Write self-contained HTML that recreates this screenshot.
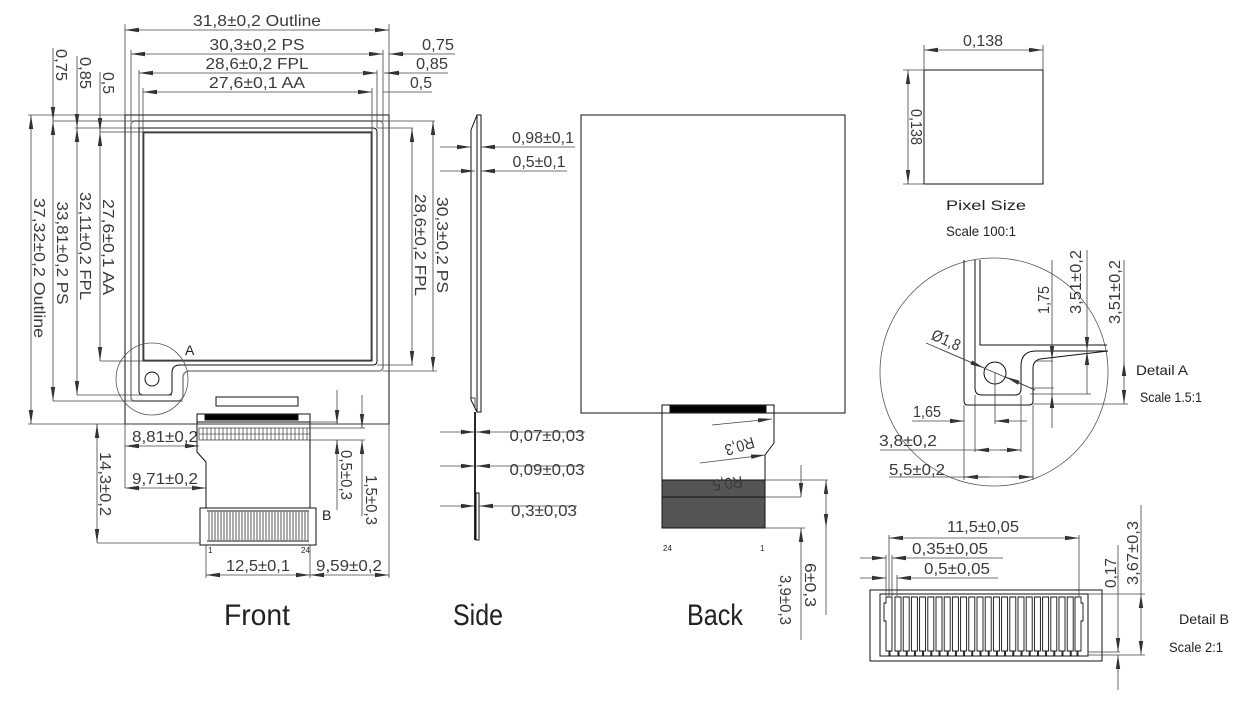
<!DOCTYPE html>
<html><head><meta charset="utf-8"><style>
html,body{margin:0;padding:0;background:#fff}
svg{display:block}
text{font-family:"Liberation Sans",sans-serif;fill:#3a3a3a;font-size:16px}
.big{font-size:30px;fill:#222}
.sm{font-size:14px;fill:#222}
.t{font-size:8px;fill:#222}
</style></head><body>
<svg width="1251" height="701" viewBox="0 0 1251 701" xmlns="http://www.w3.org/2000/svg">
<defs>
<marker id="a" viewBox="0 0 14 6" refX="14" refY="3" markerWidth="14" markerHeight="6" markerUnits="userSpaceOnUse" orient="auto-start-reverse"><path d="M0,0.8 L14,3 L0,5.2z" fill="#333"/></marker>
</defs>
<g fill="none" stroke="#111" stroke-width="1">
<!-- FRONT -->
<rect x="125" y="115" width="264" height="309"/>
<path d="M131,125 Q131,121 135,121 L379,121 Q383,121 383,125 L383,367 Q383,371 379,371 L190,371 Q183,371 183,378 L183,395 Q183,401 177,401 L135,401 Q131,401 131,397Z" stroke="#888" stroke-width="1.5"/>
<path d="M139,128 L373,128 Q377,128 377,132 L377,361 Q377,365 373,365 L180,365 Q172,365 172,373 L172,391 Q172,395 168,395 L143,395 Q139,395 139,391Z"/>
<rect x="143" y="132" width="229" height="229"/>
<rect x="144" y="133" width="227" height="227" stroke-width="0.6"/>
<circle cx="152" cy="379" r="7"/>
<circle cx="152" cy="379" r="36" stroke="#555" stroke-width="0.8"/>
<rect x="216" y="397" width="82" height="9"/>
<rect x="197" y="414" width="113" height="8"/>
<rect x="205" y="415" width="93" height="5" fill="#000"/>
<path d="M197,422 V452 L206,462 V508 M310,422 V508"/>
<rect x="199" y="428" width="111" height="12" stroke-width="0.6"/>
<path d="M199,434H310" stroke-width="0.5"/>
<path d="M203,428V440M207,428V440M211,428V440M215,428V440M219,428V440M223,428V440M227,428V440M231,428V440M235,428V440M239,428V440M243,428V440M247,428V440M251,428V440M255,428V440M259,428V440M263,428V440M267,428V440M271,428V440M275,428V440M279,428V440M283,428V440M287,428V440M291,428V440M295,428V440M299,428V440M303,428V440M307,428V440" stroke-width="0.6"/>
<rect x="200" y="508" width="116" height="37"/>
<g stroke-width="0.7">
<path d="M209,512V540M212,512V540M215,512V540M218,512V540M221,512V540M224,512V540M227,512V540M230,512V540M233,512V540M236,512V540M239,512V540M242,512V540M245,512V540M248,512V540M251,512V540M254,512V540M257,512V540M260,512V540M263,512V540M266,512V540M269,512V540M272,512V540M275,512V540M278,512V540M281,512V540M284,512V540M287,512V540M290,512V540M293,512V540M296,512V540M299,512V540M302,512V540M305,512V540M308,512V540"/>
</g>
<path d="M207,511H309M207,541H309" stroke-width="0.9"/>
<!-- front dims -->
<g stroke="#444" stroke-width="0.8">
<path d="M125,115V24M389,115V24M131,121V50M383,121V50M139,128V70M377,128V70M143,132V88M372,132V88"/>
<path d="M125,30H389" marker-start="url(#a)" marker-end="url(#a)"/>
<path d="M131,54H383" marker-start="url(#a)" marker-end="url(#a)"/>
<path d="M139,73H377" marker-start="url(#a)" marker-end="url(#a)"/>
<path d="M143,92H372" marker-start="url(#a)" marker-end="url(#a)"/>
<path d="M455,54H389M448,73H384M432,92H383"/>
<path d="M405,54H389" marker-end="url(#a)"/><path d="M400,73H385" marker-end="url(#a)"/>
<path d="M28,115H125M53,121H435M75,128H139M100,132H143"/>
<path d="M100,361H143M77,395H172M53,401H183M28,424H389M377,365H413M383,371H437M377,128H413"/>
<path d="M53,48V121" marker-end="url(#a)"/><path d="M77,56V128" marker-end="url(#a)"/><path d="M100,72V132" marker-end="url(#a)"/>
<path d="M31,115V424" marker-start="url(#a)" marker-end="url(#a)"/>
<path d="M53,121V401" marker-start="url(#a)" marker-end="url(#a)"/>
<path d="M77,128V395" marker-start="url(#a)" marker-end="url(#a)"/>
<path d="M100,132V361" marker-start="url(#a)" marker-end="url(#a)"/>
<path d="M412,128V365" marker-start="url(#a)" marker-end="url(#a)"/>
<path d="M433,121V371" marker-start="url(#a)" marker-end="url(#a)"/>
<path d="M97,424V543" marker-start="url(#a)" marker-end="url(#a)"/>
<path d="M97,543H200"/>
<path d="M125,446H199" marker-start="url(#a)" marker-end="url(#a)"/>
<path d="M125,488H206" marker-start="url(#a)" marker-end="url(#a)"/>
<path d="M125,424V488M389,424V578M206,545V578M310,545V578"/>
<path d="M206,575H310" marker-start="url(#a)" marker-end="url(#a)"/>
<path d="M310,575H389" marker-start="url(#a)" marker-end="url(#a)"/>
<path d="M310,422H338M310,440H365M310,428H365"/>
<path d="M337,390V424" marker-end="url(#a)"/><path d="M337,510V440" marker-end="url(#a)"/>
<path d="M362,395V428" marker-end="url(#a)"/><path d="M362,516V440" marker-end="url(#a)"/>
</g>
<!-- SIDE -->
<path d="M477,115H481V412H477ZM477,115L471,130V400L477,412"/>
<path d="M471,398H475V408" stroke-width="0.7"/>
<path d="M475,412V540" stroke-width="1.8"/>
<rect x="476" y="493" width="3" height="47"/>
<g stroke="#444" stroke-width="0.8">
<path d="M440,147H471" marker-end="url(#a)"/><path d="M575,147H481" marker-end="url(#a)"/>
<path d="M440,171H475" marker-end="url(#a)"/><path d="M567,171H481" marker-end="url(#a)"/>
<path d="M440,432H475" marker-end="url(#a)"/><path d="M585,432H476" marker-end="url(#a)"/>
<path d="M440,466H475" marker-end="url(#a)"/><path d="M585,466H476" marker-end="url(#a)"/>
<path d="M440,506H475" marker-end="url(#a)"/><path d="M577,506H479" marker-end="url(#a)"/>
</g>
<!-- BACK -->
<rect x="581" y="115" width="264" height="298"/>
<rect x="662" y="405" width="112" height="8"/>
<rect x="670" y="406" width="96" height="6" fill="#000"/>
<path d="M662,413V527M774,413V443L765,455V480"/>
<rect x="662" y="480" width="103" height="48" fill="#555"/>
<path d="M662,497H765"/>
<g stroke="#444" stroke-width="0.8">
<path d="M712,425L772,419" marker-end="url(#a)"/>
<path d="M700,463L765,455" marker-end="url(#a)"/>
<path d="M765,480H828M765,528H805M765,497H801"/>
<path d="M801,465V497" marker-end="url(#a)"/><path d="M801,640V528" marker-end="url(#a)"/>
<path d="M826,480V528" marker-start="url(#a)" marker-end="url(#a)"/>
<path d="M826,528V615"/>
</g>
<!-- PIXEL -->
<rect x="924" y="70" width="119" height="114"/>
<g stroke="#444" stroke-width="0.8">
<path d="M924,70V45M1043,70V45M924,70H903M924,184H903"/>
<path d="M924,50H1043" marker-start="url(#a)" marker-end="url(#a)"/>
<path d="M908,70V184" marker-start="url(#a)" marker-end="url(#a)"/>
</g>
<!-- DETAIL A -->
<circle cx="994" cy="372" r="114" stroke="#555" stroke-width="0.8"/>
<path d="M964,260V401Q964,405 968,405H1029Q1033,405 1033,401V368Q1033,361 1040,359L1108,351"/>
<path d="M975,260V388Q975,395 982,395H1015Q1021,395 1021,389V366Q1021,351 1036,351H1108"/>
<path d="M980,260V345H1107"/>
<circle cx="995" cy="373" r="11"/>
<g stroke="#444" stroke-width="0.8">
<path d="M926,343L1035,390"/>
<path d="M940,349L984,368" marker-end="url(#a)"/><path d="M1035,390L1006,377" marker-end="url(#a)"/>
<path d="M1052,260V360" marker-end="url(#a)"/><path d="M1052,428V394" marker-end="url(#a)"/>
<path d="M1052,360V394"/>
<path d="M1087,250V351" marker-end="url(#a)"/><path d="M1087,394V351" marker-end="url(#a)"/>
<path d="M1124,260V362"/><path d="M1124,362V404" marker-start="url(#a)" marker-end="url(#a)"/>
<path d="M1035,361H1053M1030,394H1091M1033,404H1128M1030,388H1054"/>
<path d="M995,373V424M975,395V452M1021,395V452M964,405V480M1033,405V480"/>
<path d="M912,421H964" marker-end="url(#a)"/><path d="M1027,421H995" marker-end="url(#a)"/>
<path d="M880,450H1021"/><path d="M990,450H975" marker-end="url(#a)"/><path d="M1000,450H1021" marker-end="url(#a)"/>
<path d="M889,477H1033"/><path d="M990,477H964" marker-end="url(#a)"/><path d="M1010,477H1033" marker-end="url(#a)"/>
</g>
<!-- DETAIL B -->
<rect x="870" y="590" width="232" height="71"/>
<rect x="880" y="594" width="208" height="62"/>
<path d="M886,597V603H884V621H886V651H889V656H890V651H892V597Z M1081,597V603H1083V621H1081V651H1078V656H1077V651H1075V597Z" stroke-width="0.9"/>
<g stroke-width="0.9">
<path d="M895,597h6v54h-2v5h-1v-5h-3z"/><path d="M903.2,597h6v54h-2v5h-1v-5h-3z"/><path d="M911.4,597h6v54h-2v5h-1v-5h-3z"/><path d="M919.6,597h6v54h-2v5h-1v-5h-3z"/><path d="M927.8,597h6v54h-2v5h-1v-5h-3z"/><path d="M936,597h6v54h-2v5h-1v-5h-3z"/><path d="M944.2,597h6v54h-2v5h-1v-5h-3z"/><path d="M952.4,597h6v54h-2v5h-1v-5h-3z"/><path d="M960.6,597h6v54h-2v5h-1v-5h-3z"/><path d="M968.8,597h6v54h-2v5h-1v-5h-3z"/><path d="M977,597h6v54h-2v5h-1v-5h-3z"/><path d="M985.2,597h6v54h-2v5h-1v-5h-3z"/><path d="M993.4,597h6v54h-2v5h-1v-5h-3z"/><path d="M1001.6,597h6v54h-2v5h-1v-5h-3z"/><path d="M1009.8,597h6v54h-2v5h-1v-5h-3z"/><path d="M1018,597h6v54h-2v5h-1v-5h-3z"/><path d="M1026.2,597h6v54h-2v5h-1v-5h-3z"/><path d="M1034.4,597h6v54h-2v5h-1v-5h-3z"/><path d="M1042.6,597h6v54h-2v5h-1v-5h-3z"/><path d="M1050.8,597h6v54h-2v5h-1v-5h-3z"/><path d="M1059,597h6v54h-2v5h-1v-5h-3z"/><path d="M1067.2,597h6v54h-2v5h-1v-5h-3z"/>
</g>
<g stroke="#444" stroke-width="0.8">
<path d="M889,596V535M1079,596V535M886,596V555M892,596V555M897,596V575"/>
<path d="M889,538H1079" marker-start="url(#a)" marker-end="url(#a)"/>
<path d="M860,558H886" marker-end="url(#a)"/><path d="M1003,558H892" marker-end="url(#a)"/>
<path d="M860,578H886" marker-end="url(#a)"/><path d="M998,578H897" marker-end="url(#a)"/>
<path d="M1088,594H1145M1088,652H1120M1088,655H1145"/>
<path d="M1141,505V594"/><path d="M1141,594V655" marker-start="url(#a)" marker-end="url(#a)"/>
<path d="M1118,545V652" marker-end="url(#a)"/><path d="M1118,690V655" marker-end="url(#a)"/>
</g>
</g>
<!-- TEXT -->
<text x="257" y="26" text-anchor="middle" textLength="128" lengthAdjust="spacingAndGlyphs">31,8±0,2 Outline</text>
<text x="257" y="50" text-anchor="middle" textLength="95" lengthAdjust="spacingAndGlyphs">30,3±0,2 PS</text>
<text x="257" y="69" text-anchor="middle" textLength="103" lengthAdjust="spacingAndGlyphs">28,6±0,2 FPL</text>
<text x="257" y="88" text-anchor="middle" textLength="96" lengthAdjust="spacingAndGlyphs">27,6±0,1 AA</text>
<text x="438" y="50" text-anchor="middle" textLength="32" lengthAdjust="spacingAndGlyphs">0,75</text>
<text x="432" y="69" text-anchor="middle" textLength="32" lengthAdjust="spacingAndGlyphs">0,85</text>
<text x="421" y="88" text-anchor="middle" textLength="22" lengthAdjust="spacingAndGlyphs">0,5</text>
<g text-anchor="middle">
<text transform="translate(56,65) rotate(90)" textLength="32" lengthAdjust="spacingAndGlyphs">0,75</text>
<text transform="translate(80,73) rotate(90)" textLength="32" lengthAdjust="spacingAndGlyphs">0,85</text>
<text transform="translate(103,83) rotate(90)" textLength="22" lengthAdjust="spacingAndGlyphs">0,5</text>
<text transform="translate(34,268) rotate(90)" textLength="140" lengthAdjust="spacingAndGlyphs">37,32±0,2 Outline</text>
<text transform="translate(57,253) rotate(90)" textLength="103" lengthAdjust="spacingAndGlyphs">33,81±0,2 PS</text>
<text transform="translate(80,246) rotate(90)" textLength="108" lengthAdjust="spacingAndGlyphs">32,11±0,2 FPL</text>
<text transform="translate(103,247) rotate(90)" textLength="96" lengthAdjust="spacingAndGlyphs">27,6±0,1 AA</text>
<text transform="translate(415,245) rotate(90)" textLength="102" lengthAdjust="spacingAndGlyphs">28,6±0,2 FPL</text>
<text transform="translate(437,245) rotate(90)" textLength="96" lengthAdjust="spacingAndGlyphs">30,3±0,2 PS</text>
<text transform="translate(100,484) rotate(90)" textLength="64" lengthAdjust="spacingAndGlyphs">14,3±0,2</text>
<text transform="translate(341,475) rotate(90)" textLength="50" lengthAdjust="spacingAndGlyphs">0,5±0,3</text>
<text transform="translate(366,500) rotate(90)" textLength="50" lengthAdjust="spacingAndGlyphs">1,5±0,3</text>
<text transform="translate(805,585) rotate(90)" textLength="44" lengthAdjust="spacingAndGlyphs">6±0,3</text>
<text transform="translate(780,600) rotate(90)" textLength="50" lengthAdjust="spacingAndGlyphs">3,9±0,3</text>
<text transform="translate(911,127) rotate(90)" textLength="36" lengthAdjust="spacingAndGlyphs">0,138</text>
<text transform="translate(1049,300) rotate(-90)" textLength="28" lengthAdjust="spacingAndGlyphs">1,75</text>
<text transform="translate(1081,282) rotate(-90)" textLength="64" lengthAdjust="spacingAndGlyphs">3,51±0,2</text>
<text transform="translate(1120,292) rotate(-90)" textLength="64" lengthAdjust="spacingAndGlyphs">3,51±0,2</text>
<text transform="translate(1116,573) rotate(-90)" textLength="30" lengthAdjust="spacingAndGlyphs">0,17</text>
<text transform="translate(1138,553) rotate(-90)" textLength="64" lengthAdjust="spacingAndGlyphs">3,67±0,3</text>
<text transform="translate(944,345) rotate(24)" textLength="30" lengthAdjust="spacingAndGlyphs">Ø1,8</text>
<text transform="translate(738,441) rotate(163)" textLength="30" lengthAdjust="spacingAndGlyphs">R0,3</text>
<text transform="translate(727,478) rotate(173)" textLength="30" lengthAdjust="spacingAndGlyphs">R0,5</text>
</g>
<text x="165" y="442" text-anchor="middle" textLength="66" lengthAdjust="spacingAndGlyphs">8,81±0,2</text>
<text x="165" y="484" text-anchor="middle" textLength="66" lengthAdjust="spacingAndGlyphs">9,71±0,2</text>
<text x="258" y="571" text-anchor="middle" textLength="64" lengthAdjust="spacingAndGlyphs">12,5±0,1</text>
<text x="349" y="571" text-anchor="middle" textLength="66" lengthAdjust="spacingAndGlyphs">9,59±0,2</text>
<text x="185" y="355" class="sm">A</text>
<text x="322" y="520" class="sm">B</text>
<text x="208" y="553" class="t">1</text><text x="301" y="553" class="t">24</text>
<text x="663" y="551" class="t">24</text><text x="760" y="551" class="t">1</text>
<text x="543" y="143" text-anchor="middle" textLength="62" lengthAdjust="spacingAndGlyphs">0,98±0,1</text>
<text x="539" y="167" text-anchor="middle" textLength="53" lengthAdjust="spacingAndGlyphs">0,5±0,1</text>
<text x="547" y="441" text-anchor="middle" textLength="75" lengthAdjust="spacingAndGlyphs">0,07±0,03</text>
<text x="547" y="475" text-anchor="middle" textLength="75" lengthAdjust="spacingAndGlyphs">0,09±0,03</text>
<text x="544" y="516" text-anchor="middle" textLength="66" lengthAdjust="spacingAndGlyphs">0,3±0,03</text>
<text x="983" y="46" text-anchor="middle" textLength="40" lengthAdjust="spacingAndGlyphs">0,138</text>
<text x="986" y="210" text-anchor="middle" class="sm" textLength="80" lengthAdjust="spacingAndGlyphs">Pixel Size</text>
<text x="981" y="236" text-anchor="middle" class="sm" textLength="70" lengthAdjust="spacingAndGlyphs">Scale 100:1</text>
<text x="927" y="417" text-anchor="middle" textLength="28" lengthAdjust="spacingAndGlyphs">1,65</text>
<text x="908" y="446" text-anchor="middle" textLength="58" lengthAdjust="spacingAndGlyphs">3,8±0,2</text>
<text x="917" y="475" text-anchor="middle" textLength="56" lengthAdjust="spacingAndGlyphs">5,5±0,2</text>
<text x="1162" y="375" text-anchor="middle" class="sm" textLength="52" lengthAdjust="spacingAndGlyphs">Detail A</text>
<text x="1171" y="402" text-anchor="middle" class="sm" textLength="62" lengthAdjust="spacingAndGlyphs">Scale 1.5:1</text>
<text x="983" y="532" text-anchor="middle" textLength="72" lengthAdjust="spacingAndGlyphs">11,5±0,05</text>
<text x="950" y="554" text-anchor="middle" textLength="76" lengthAdjust="spacingAndGlyphs">0,35±0,05</text>
<text x="957" y="574" text-anchor="middle" textLength="66" lengthAdjust="spacingAndGlyphs">0,5±0,05</text>
<text x="1204" y="624" text-anchor="middle" class="sm" textLength="50" lengthAdjust="spacingAndGlyphs">Detail B</text>
<text x="1196" y="652" text-anchor="middle" class="sm" textLength="54" lengthAdjust="spacingAndGlyphs">Scale 2:1</text>
<text x="257" y="625" text-anchor="middle" class="big" textLength="66" lengthAdjust="spacingAndGlyphs">Front</text>
<text x="478" y="625" text-anchor="middle" class="big" textLength="50" lengthAdjust="spacingAndGlyphs">Side</text>
<text x="715" y="625" text-anchor="middle" class="big" textLength="56" lengthAdjust="spacingAndGlyphs">Back</text>
</svg>
</body></html>
